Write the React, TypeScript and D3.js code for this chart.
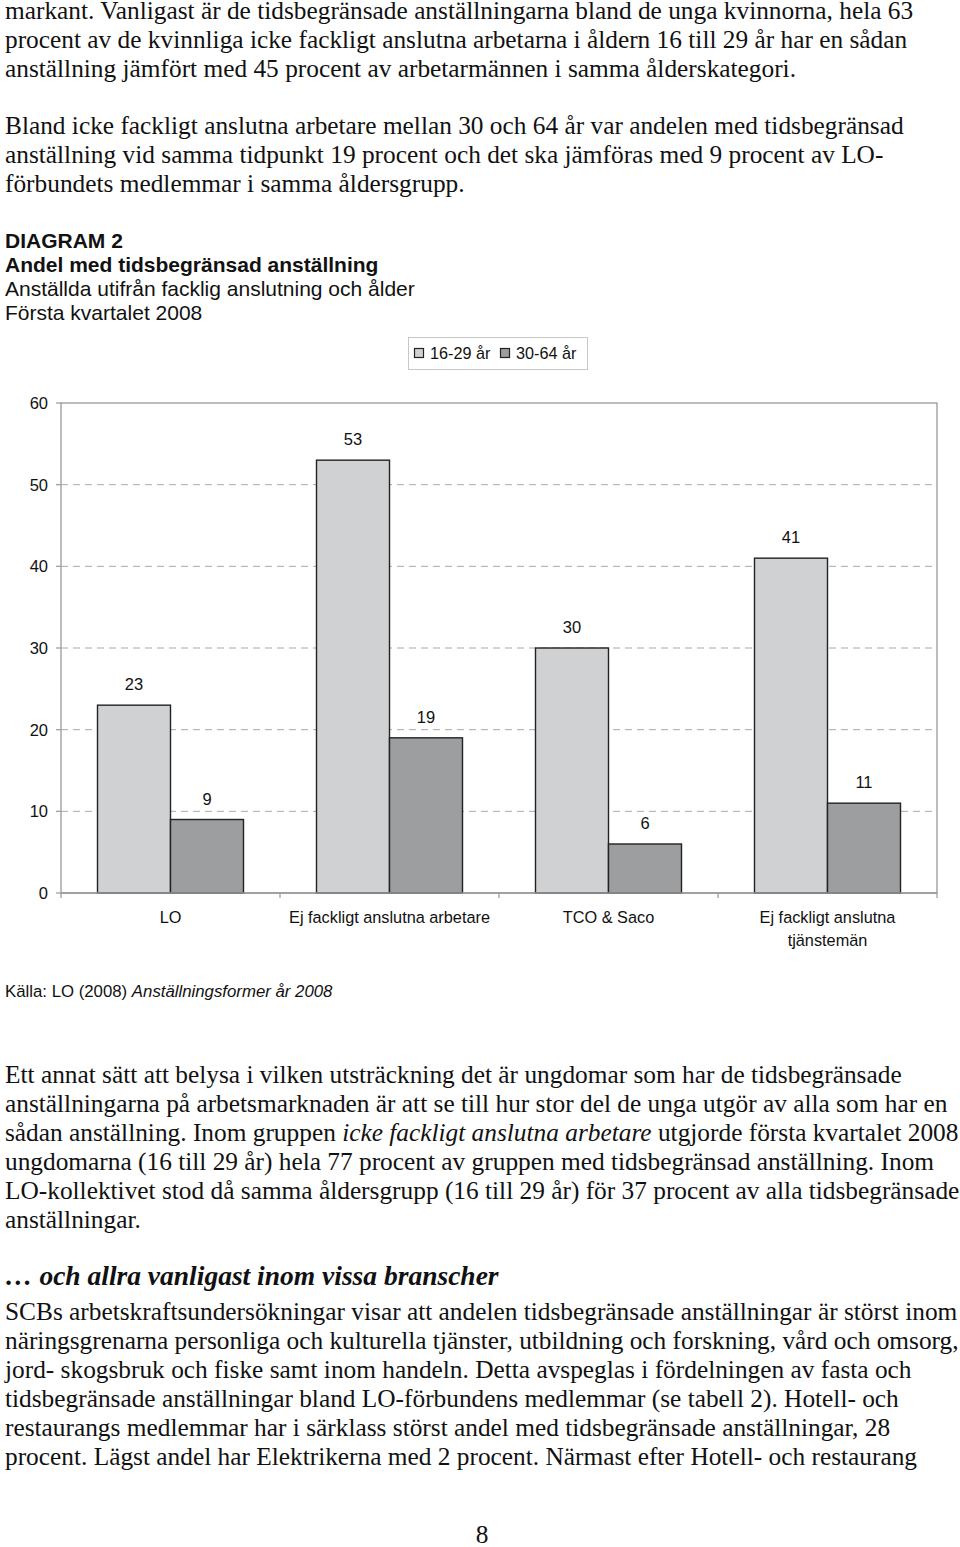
import React from "react";
import * as d3 from "d3";

const categories = ["LO", "Ej fackligt anslutna arbetare", "TCO & Saco", "Ej fackligt anslutna tjänstemän"];
const categoryLines = [["LO"], ["Ej fackligt anslutna arbetare"], ["TCO & Saco"], ["Ej fackligt anslutna", "tjänstemän"]];
const seriesNames = ["16-29 år", "30-64 år"];
const young = [23, 53, 30, 41];
const older = [9, 19, 6, 11];
const yTicks = [0, 10, 20, 30, 40, 50, 60];
const colors = ["#d0d1d3", "#9d9ea0"];

const para1 = [
  "markant. Vanligast är de tidsbegränsade anställningarna bland de unga kvinnorna, hela 63",
  "procent av de kvinnliga icke fackligt anslutna arbetarna i åldern 16 till 29 år har en sådan",
  "anställning jämfört med 45 procent av arbetarmännen i samma ålderskategori.",
];
const para2 = [
  "Bland icke fackligt anslutna arbetare mellan 30 och 64 år var andelen med tidsbegränsad",
  "anställning vid samma tidpunkt 19 procent och det ska jämföras med 9 procent av LO-",
  "förbundets medlemmar i samma åldersgrupp.",
];
const titleLines = [
  "DIAGRAM 2",
  "Andel med tidsbegränsad anställning",
  "Anställda utifrån facklig anslutning och ålder",
  "Första kvartalet 2008",
];
const para3: (string | { i: string })[][] = [
  ["Ett annat sätt att belysa i vilken utsträckning det är ungdomar som har de tidsbegränsade"],
  ["anställningarna på arbetsmarknaden är att se till hur stor del de unga utgör av alla som har en"],
  ["sådan anställning. Inom gruppen ", { i: "icke fackligt anslutna arbetare" }, " utgjorde första kvartalet 2008"],
  ["ungdomarna (16 till 29 år) hela 77 procent av gruppen med tidsbegränsad anställning. Inom"],
  ["LO-kollektivet stod då samma åldersgrupp (16 till 29 år) för 37 procent av alla tidsbegränsade"],
  ["anställningar."],
];
const heading = "… och allra vanligast inom vissa branscher";
const para4 = [
  "SCBs arbetskraftsundersökningar visar att andelen tidsbegränsade anställningar är störst inom",
  "näringsgrenarna personliga och kulturella tjänster, utbildning och forskning, vård och omsorg,",
  "jord- skogsbruk och fiske samt inom handeln. Detta avspeglas i fördelningen av fasta och",
  "tidsbegränsade anställningar bland LO-förbundens medlemmar (se tabell 2). Hotell- och",
  "restaurangs medlemmar har i särklass störst andel med tidsbegränsade anställningar, 28",
  "procent. Lägst andel har Elektrikerna med 2 procent. Närmast efter Hotell- och restaurang",
];

const serif = "'Liberation Serif', 'Times New Roman', serif";
const sans = "'Liberation Sans', Arial, Helvetica, sans-serif";

export default function App() {
  const W = 960, H = 1547;
  const plot = { left: 61, right: 937, top: 403, bottom: 893 };
  const y = d3.scaleLinear().domain([0, 60]).range([plot.bottom, plot.top]);
  const x0 = d3.scaleBand<string>().domain(categories).range([plot.left, plot.right]).padding(0);
  const x1 = d3.scaleBand<string>().domain(seriesNames).range([0, x0.bandwidth()]).paddingInner(0).paddingOuter(0.5);
  const series = [young, older];
  const textColor = "#111";
  const bodySize = 25.35;
  const lh = 29;

  return (
    <svg width={W} height={H} style={{ position: "absolute", left: 0, top: 0, background: "#fff" }}>
      <rect x={0} y={0} width={W} height={H} fill="#fff" />
      <g fontFamily={serif} fontSize={bodySize} fill={textColor}>
        {para1.map((t, i) => (
          <text key={"p1" + i} x={5} y={19 + i * lh}>{t}</text>
        ))}
        {para2.map((t, i) => (
          <text key={"p2" + i} x={5} y={134 + i * lh}>{t}</text>
        ))}
        {para3.map((parts, i) => (
          <text key={"p3" + i} x={5} y={1083 + i * lh}>
            {parts.map((p, j) =>
              typeof p === "string" ? <tspan key={j}>{p}</tspan> : <tspan key={j} fontStyle="italic">{p.i}</tspan>
            )}
          </text>
        ))}
        <text x={5} y={1285} fontStyle="italic" fontWeight="bold" fontSize={27.5}>{heading}</text>
        {para4.map((t, i) => (
          <text key={"p4" + i} x={5} y={1320 + i * lh}>{t}</text>
        ))}
        <text x={482} y={1543} textAnchor="middle">8</text>
      </g>
      <g fontFamily={sans} fill={textColor} fontSize={21}>
        {titleLines.map((t, i) => (
          <text key={"t" + i} x={5} y={248 + i * 24} fontWeight={i < 2 ? "bold" : "normal"}>{t}</text>
        ))}
      </g>
      {/* legend */}
      <g fontFamily={sans} fontSize={16.2} fill={textColor}>
        <rect x={408.5} y={337.5} width={179} height={32} fill="#fff" stroke="#c8c8c8" strokeWidth={1} />
        {seriesNames.map((s, i) => (
          <g key={s} transform={`translate(${414 + i * 86},0)`}>
            <rect x={0.5} y={348.5} width={9} height={9} fill={colors[i]} stroke="#222" strokeWidth={1.2} />
            <text x={16} y={358.5}>{s}</text>
          </g>
        ))}
      </g>
      {/* plot frame & grid */}
      <rect x={plot.left} y={plot.top} width={plot.right - plot.left} height={plot.bottom - plot.top} fill="#fff" stroke="#999" strokeWidth={1.3} />
      {yTicks.filter((t) => t > 0 && t < 60).map((t) => (
        <line key={"g" + t} x1={plot.left} x2={plot.right} y1={y(t)} y2={y(t)} stroke="#aaa" strokeWidth={1} strokeDasharray="7,5" />
      ))}
      {yTicks.map((t) => (
        <g key={"yt" + t}>
          <line x1={plot.left - 5} x2={plot.left} y1={y(t)} y2={y(t)} stroke="#999" strokeWidth={1.2} />
          <text x={48} y={y(t)} dy="0.36em" textAnchor="end" fontFamily={sans} fontSize={16.5} fill={textColor}>{t}</text>
        </g>
      ))}
      {[0, 1, 2, 3, 4].map((k) => {
        const xv = plot.left + k * x0.step();
        return <line key={"xt" + k} x1={xv} x2={xv} y1={plot.bottom} y2={plot.bottom + 5} stroke="#999" strokeWidth={1.2} />;
      })}
      {/* bars */}
      {categories.map((c, ci) => (
        <g key={c} transform={`translate(${x0(c)},0)`}>
          {seriesNames.map((s, si) => {
            const v = series[si][ci];
            const bx = x1(s)!;
            return (
              <g key={s}>
                <rect x={bx} y={y(v)} width={x1.bandwidth()} height={y(0) - y(v)} fill={colors[si]} stroke="#222" strokeWidth={1.4} />
                <text x={bx + x1.bandwidth() / 2} y={y(v) - 15} textAnchor="middle" fontFamily={sans} fontSize={16.5} fill={textColor}>{v}</text>
              </g>
            );
          })}
        </g>
      ))}
      <line x1={plot.left} x2={plot.right} y1={plot.bottom} y2={plot.bottom} stroke="#999" strokeWidth={1.3} />
      {/* category labels */}
      <g fontFamily={sans} fontSize={16.3} fill={textColor} textAnchor="middle">
        {categories.map((c, ci) => (
          <text key={c} x={x0(c)! + x0.bandwidth() / 2} y={923}>
            {categoryLines[ci].map((l, li) => (
              <tspan key={li} x={x0(c)! + x0.bandwidth() / 2} dy={li === 0 ? 0 : 23}>{l}</tspan>
            ))}
          </text>
        ))}
      </g>
      <text x={5} y={997} fontFamily={sans} fontSize={16.8} fill={textColor}>
        Källa: LO (2008) <tspan fontStyle="italic">Anställningsformer år 2008</tspan>
      </text>
    </svg>
  );
}
